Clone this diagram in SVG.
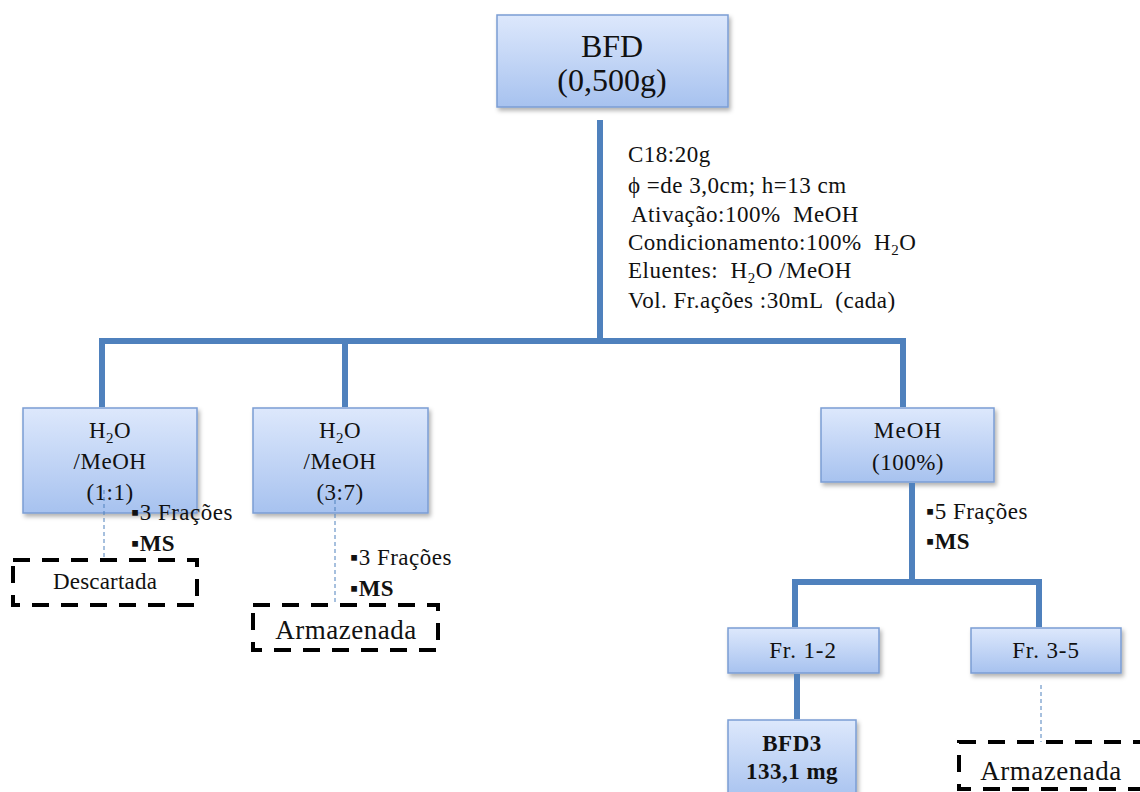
<svg xmlns="http://www.w3.org/2000/svg" width="1140" height="792" viewBox="0 0 1140 792" font-family="'Liberation Serif', 'DejaVu Serif', serif" xml:space="preserve">
<defs>
<linearGradient id="g" x1="0" y1="0" x2="0" y2="1">
<stop offset="0" stop-color="#dde8fc"/>
<stop offset="1" stop-color="#a7c2ef"/>
</linearGradient>
<filter id="sh" x="-10%" y="-10%" width="130%" height="130%">
<feDropShadow dx="2" dy="3" stdDeviation="2" flood-color="#000" flood-opacity="0.3"/>
</filter>
<style>
.box{fill:url(#g);stroke:#7b9dd4;stroke-width:1.5;filter:url(#sh)}
.dbox{fill:none;stroke:#000;stroke-width:4;stroke-dasharray:17,12}
.c{fill:none;stroke:#4f81bd;stroke-width:6}
.d{fill:none;stroke:#4f81bd;stroke-width:1;stroke-dasharray:4,3}
text{fill:#111;letter-spacing:0.5px;white-space:pre}
.m{text-anchor:middle}
</style>
</defs>
<rect width="1140" height="792" fill="#fff"/>
<g id="bfd">
<rect class="box" x="497" y="15" width="231" height="92"/>
<text class="m" x="612" y="57" font-size="32" style="letter-spacing:0">BFD</text>
<text class="m" x="612" y="91" font-size="32" style="letter-spacing:0">(0,500g)</text>
</g>
<g id="info" font-size="23" style="letter-spacing:0.4px">
<text x="628" y="162">C18:20g</text>
<text x="628" y="193">ϕ =de 3,0cm; h=13 cm</text>
<text x="631" y="222">Ativação:100%  MeOH</text>
<text x="628" y="250">Condicionamento:100%  H<tspan font-size="15" dy="5">2</tspan><tspan dy="-5">O</tspan></text>
<text x="628" y="278">Eluentes:  H<tspan font-size="15" dy="5">2</tspan><tspan dy="-5">O /MeOH</tspan></text>
<text x="628" y="308">Vol. Fr.ações :30mL  (cada)</text>
</g>
<g id="n11">
<rect class="box" x="23" y="408" width="174" height="105"/>
<text class="m" x="110" y="438" font-size="23">H<tspan font-size="15" dy="5">2</tspan><tspan dy="-5">O</tspan></text>
<text class="m" x="110" y="469" font-size="23">/MeOH</text>
<text class="m" x="110" y="500" font-size="23">(1:1)</text>
</g>
<g id="n37">
<rect class="box" x="253" y="408" width="175" height="105"/>
<text class="m" x="340" y="438" font-size="23">H<tspan font-size="15" dy="5">2</tspan><tspan dy="-5">O</tspan></text>
<text class="m" x="340" y="469" font-size="23">/MeOH</text>
<text class="m" x="340" y="500" font-size="23">(3:7)</text>
</g>
<g id="n100">
<rect class="box" x="821" y="408" width="173" height="74"/>
<text class="m" x="908" y="438" font-size="23" style="letter-spacing:1.1px">MeOH</text>
<text class="m" x="908" y="470" font-size="23">(100%)</text>
</g>
<g id="lab1" font-size="23" style="letter-spacing:0.6px">
<text x="131" y="520">▪3 Frações</text>
<text x="131" y="551" font-weight="bold">▪MS</text>
</g>
<g id="lab2" font-size="23" style="letter-spacing:0.6px">
<text x="350" y="565">▪3 Frações</text>
<text x="350" y="596" font-weight="bold">▪MS</text>
</g>
<g id="lab3" font-size="23" style="letter-spacing:0.6px">
<text x="926" y="519">▪5 Frações</text>
<text x="926" y="549" font-weight="bold">▪MS</text>
</g>
<g id="descartada">
<rect class="dbox" x="13" y="560" width="184" height="45"/>
<text class="m" x="105" y="589" font-size="23" style="letter-spacing:0.2px">Descartada</text>
</g>
<g id="armazenada1">
<rect class="dbox" x="253" y="605" width="185" height="45"/>
<text class="m" x="346" y="639" font-size="27" style="letter-spacing:0.5px">Armazenada</text>
</g>
<g id="fr12">
<rect class="box" x="728" y="628" width="151" height="45"/>
<text class="m" x="803" y="658" font-size="23" style="letter-spacing:0.9px">Fr. 1-2</text>
</g>
<g id="fr35">
<rect class="box" x="971" y="628" width="150" height="45"/>
<text class="m" x="1046" y="658" font-size="23" style="letter-spacing:0.9px">Fr. 3-5</text>
</g>
<g id="bfd3">
<rect class="box" x="728" y="720" width="128" height="80"/>
<text class="m" x="792" y="751" font-size="23" font-weight="bold">BFD3</text>
<text class="m" x="792" y="779" font-size="23" font-weight="bold">133,1 mg</text>
</g>
<g id="armazenada2">
<rect class="dbox" x="959" y="742" width="200" height="47"/>
<text class="m" x="1051" y="780" font-size="27" style="letter-spacing:0.5px">Armazenada</text>
</g>
<g id="connectors">
<path class="c" d="M600 120V341M102 341H905M102 338V407M345 338V407M903 338V407"/>
<path class="c" d="M912 483V582M795 582H1039M795 579V627M1039 579V627M797 674V719"/>
<path class="d" d="M104 490V560M335 500V605M1041 685V742"/>
</g>
</svg>
